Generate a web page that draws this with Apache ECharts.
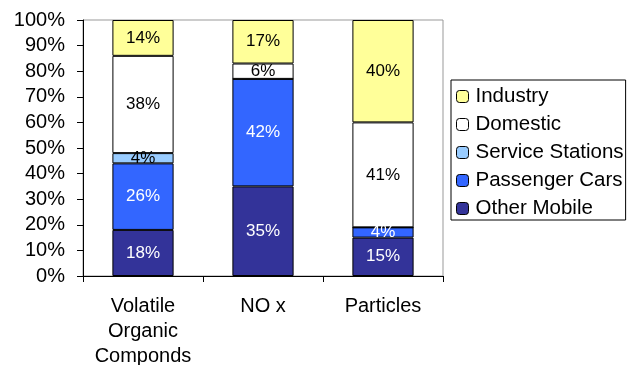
<!DOCTYPE html>
<html>
<head>
<meta charset="utf-8">
<script src="https://cdn.jsdelivr.net/npm/echarts@6/dist/echarts.min.js"></script>
<style>
  html, body { margin: 0; padding: 0; background: #fff; }
  #chart { width: 636px; height: 365px; }
</style>
</head>
<body>
<div id="chart"></div>
<script>
// Emission sources by pollutant, share of total (%)
const categories = ['Volatile\nOrganic\nComponds', 'NO x', 'Particles'];
const otherMobile = [18, 35, 15];
const passengerCars = [26, 42, 4];
const serviceStations = [4, 0, 0];
const domestic = [38, 6, 41];
const industry = [14, 17, 40];
const legendOrder = ['Industry', 'Domestic', 'Service Stations', 'Passenger Cars', 'Other Mobile'];

const FONT = 'Liberation Sans, Arial, sans-serif';

function makeSeries(name, values, color, labelColor) {
  return {
    name: name,
    type: 'bar',
    stack: 'total',
    barWidth: '51%',
    data: values,
    itemStyle: { color: color, borderColor: '#000', borderWidth: 1 },
    label: {
      show: true,
      position: 'inside',
      color: labelColor,
      fontFamily: FONT,
      fontSize: 17,
      formatter: p => (p.value > 0 ? p.value + '%' : '')
    },
    emphasis: { disabled: true }
  };
}

const chart = echarts.init(document.getElementById('chart'), null, { renderer: 'canvas' });
chart.setOption({
  animation: false,
  backgroundColor: '#fff',
  grid: {
    left: 83, right: 193, top: 20, bottom: 89,
    containLabel: false,
    outerBoundsMode: 'none',
    show: true, borderColor: '#999', borderWidth: 1, backgroundColor: 'transparent'
  },
  legend: {
    data: legendOrder,
    orient: 'vertical',
    left: 451, top: 80,
    padding: [6, 2, 1, 5],
    borderColor: '#000', borderWidth: 1,
    itemWidth: 12, itemHeight: 12, itemGap: 7,
    selectedMode: false,
    textStyle: { fontFamily: FONT, fontSize: 20.5, lineHeight: 20, color: '#000', padding: [0, 0, 0, 2] },
    itemStyle: { borderColor: '#000', borderWidth: 1 }
  },
  xAxis: {
    type: 'category',
    data: categories,
    axisLine: { lineStyle: { color: '#000', width: 1 } },
    axisTick: { show: true, length: 6, lineStyle: { color: '#000' } },
    axisLabel: {
      fontFamily: FONT, fontSize: 20, color: '#000',
      lineHeight: 25, margin: 18, interval: 0
    }
  },
  yAxis: {
    type: 'value',
    min: 0, max: 100, interval: 10,
    axisLine: { show: true, lineStyle: { color: '#000', width: 1 } },
    axisTick: { show: true, length: 6, lineStyle: { color: '#000' } },
    splitLine: { show: false },
    axisLabel: {
      formatter: '{value}%',
      fontFamily: FONT, fontSize: 20, color: '#000', margin: 18
    }
  },
  series: [
    makeSeries('Other Mobile', otherMobile, '#333399', '#fff'),
    makeSeries('Passenger Cars', passengerCars, '#3366FF', '#fff'),
    makeSeries('Service Stations', serviceStations, '#99CCFF', '#000'),
    makeSeries('Domestic', domestic, '#FFFFFF', '#000'),
    makeSeries('Industry', industry, '#FFFF99', '#000')
  ]
});
</script>
</body>
</html>
